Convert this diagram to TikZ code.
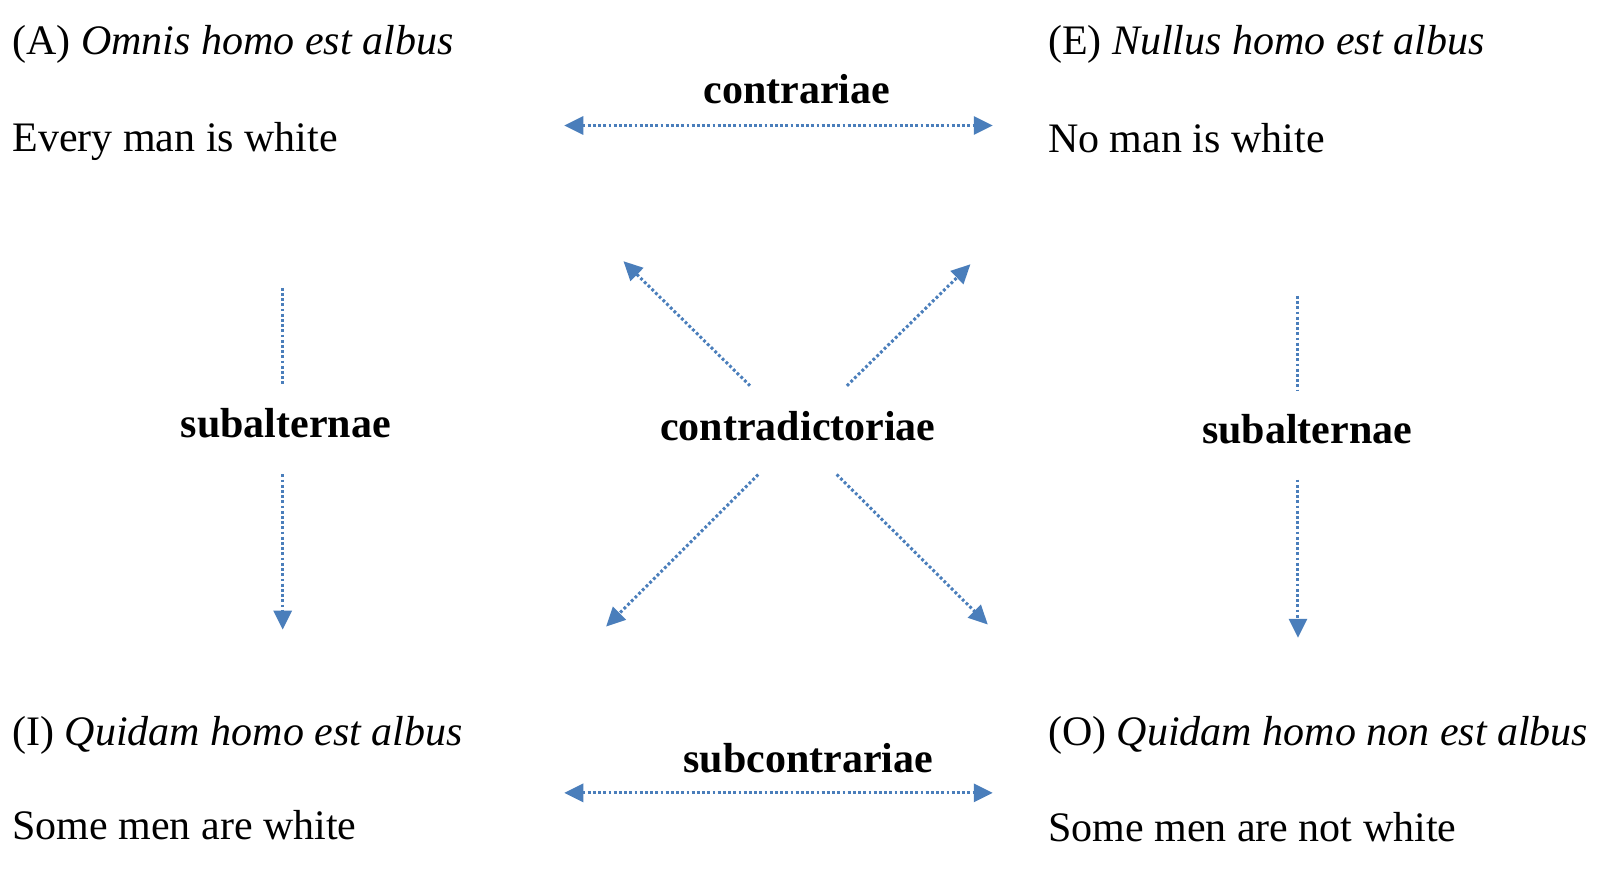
\documentclass[tikz,border=0pt]{standalone}
\usepackage{fontspec}
\setmainfont{Liberation Serif}
\usetikzlibrary{arrows.meta}
\definecolor{arrblue}{HTML}{4A7EBB}
\tikzset{
  prop/.style={anchor=base west,inner sep=0pt,font=\fontsize{42}{50}\selectfont},
  rel/.style={anchor=base,inner sep=0pt,font=\fontsize{42}{50}\selectfont\bfseries},
  dots/.style={draw=arrblue,line width=3pt,dash pattern=on 2.8pt off 2.4pt},
  tip/.style={-{Triangle[length=19pt,width=18pt]}},
  tips/.style={{Triangle[length=19pt,width=18pt]}-{Triangle[length=19pt,width=18pt]}}
}
\begin{document}
\begin{tikzpicture}[x=1.0204pt,y=-1.0204pt]
\useasboundingbox (0,0) rectangle (1568,856.5);
% propositions
\node[prop] (A) at (12,53) {(A) \textit{Omnis homo est albus}};
\node[prop] (Ae) at (12,148) {Every man is white};
\node[prop] (E) at (1027,53) {(E) \textit{Nullus homo est albus}};
\node[prop] (Ee) at (1027,149) {No man is white};
\node[prop] (I) at (12,731) {(I) \textit{Quidam homo est albus}};
\node[prop] (Ie) at (12,823) {Some men are white};
\node[prop] (O) at (1027,731) {(O) \textit{Quidam homo non est albus}};
\node[prop] (Oe) at (1027,825) {Some men are not white};
% relation labels
\node[rel] (contr) at (781,101) {contrariae};
\node[rel] (subc) at (792,757) {subcontrariae};
\node[rel] (contrad) at (782,432) {contradictoriae};
\node[rel] (subL) at (280,429) {subalternae};
\node[rel] (subR) at (1281,435) {subalternae};
% connector end points
\coordinate (cL) at (553,123); \coordinate (cR) at (973,123);
\coordinate (sL) at (553,777); \coordinate (sR) at (973,777);
\coordinate (vL1) at (277,282); \coordinate (vL2) at (277,378);
\coordinate (vL3) at (277,465); \coordinate (vL4) at (277,617);
\coordinate (vR1) at (1272,290); \coordinate (vR2) at (1272,382);
\coordinate (vR3) at (1272,470); \coordinate (vR4) at (1272,625);
\coordinate (dUL0) at (735,378); \coordinate (dUL) at (611,256);
\coordinate (dUR0) at (830,378); \coordinate (dUR) at (951,259);
\coordinate (dLL0) at (743,465); \coordinate (dLL) at (594,614);
\coordinate (dLR0) at (820,465); \coordinate (dLR) at (968,612);
% connectors
\draw[dots,tips,arrblue] (cL) -- (cR);
\draw[dots,tips,arrblue] (sL) -- (sR);
\draw[dots] (vL1) -- (vL2);
\draw[dots,tip,arrblue] (vL3) -- (vL4);
\draw[dots] (vR1) -- (vR2);
\draw[dots,tip,arrblue] (vR3) -- (vR4);
\draw[dots,tip,arrblue] (dUL0) -- (dUL);
\draw[dots,tip,arrblue] (dUR0) -- (dUR);
\draw[dots,tip,arrblue] (dLL0) -- (dLL);
\draw[dots,tip,arrblue] (dLR0) -- (dLR);
\end{tikzpicture}
\end{document}
